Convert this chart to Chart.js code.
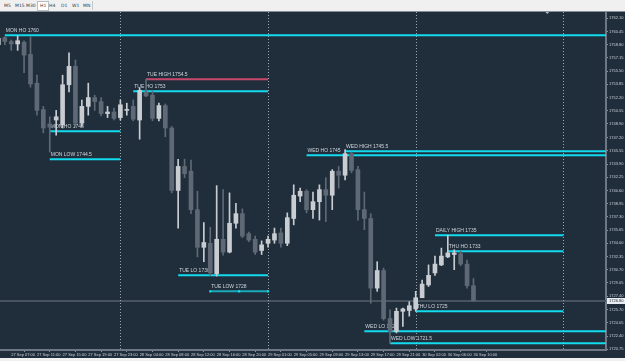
<!DOCTYPE html>
<html>
<head>
<meta charset="utf-8">
<script src="https://cdn.jsdelivr.net/npm/chart.js@4.4.0/dist/chart.umd.min.js"></script>
<style>
  html, body { margin: 0; padding: 0; background: #f0f0f0; overflow: hidden; }
  #bar { position: absolute; left: 0; top: 0; width: 625px; height: 11px; background: #f0f0f0; border-bottom: 1px solid #858d96; }
  #bar span { position: absolute; top: 3px; font: 4.5px "DejaVu Sans", sans-serif; color: #3a3a3a; line-height: 5px; }
  #bar .on { top: 1px; height: 8px; padding: 0 2px; line-height: 8px; background: #fff; border: 1px solid #b8bec4; }
  #bar i { position: absolute; left: 92px; top: 1px; width: 1px; height: 9px; background: #c4c8cc; }
  #wrap { position: absolute; left: 0; top: 12px; width: 625px; height: 346px; background: #202e3c; }
</style>
</head>
<body>
<div id="bar">
  <span style="left:4px">M5</span>
  <span style="left:15px">M15</span>
  <span style="left:26px">M30</span>
  <span class="on" style="left:37px">H1</span>
  <span style="left:49px">H4</span>
  <span style="left:61px">D1</span>
  <span style="left:72px">W1</span>
  <span style="left:83px">MN</span>
  <i></i>
</div>
<div id="wrap"><canvas id="grafico" width="625" height="346"></canvas></div>
<script>
// barras H1, 27 Sep 05:00 -> 30 Sep 10:00
const times = [
  '27 Sep 05:00', '27 Sep 06:00', '27 Sep 07:00', '27 Sep 08:00', '27 Sep 09:00', '27 Sep 10:00', '27 Sep 11:00',
  '27 Sep 12:00', '27 Sep 13:00', '27 Sep 14:00', '27 Sep 15:00', '27 Sep 16:00', '27 Sep 17:00', '27 Sep 18:00',
  '27 Sep 19:00', '27 Sep 20:00', '27 Sep 21:00', '27 Sep 22:00', '27 Sep 23:00',
  '28 Sep 01:00', '28 Sep 02:00', '28 Sep 03:00', '28 Sep 04:00', '28 Sep 05:00', '28 Sep 06:00', '28 Sep 07:00',
  '28 Sep 08:00', '28 Sep 09:00', '28 Sep 10:00', '28 Sep 11:00', '28 Sep 12:00', '28 Sep 13:00', '28 Sep 14:00',
  '28 Sep 15:00', '28 Sep 16:00', '28 Sep 17:00', '28 Sep 18:00', '28 Sep 19:00', '28 Sep 20:00', '28 Sep 21:00',
  '28 Sep 22:00', '28 Sep 23:00',
  '29 Sep 01:00', '29 Sep 02:00', '29 Sep 03:00', '29 Sep 04:00', '29 Sep 05:00', '29 Sep 06:00', '29 Sep 07:00',
  '29 Sep 08:00', '29 Sep 09:00', '29 Sep 10:00', '29 Sep 11:00', '29 Sep 12:00', '29 Sep 13:00', '29 Sep 14:00',
  '29 Sep 15:00', '29 Sep 16:00', '29 Sep 17:00', '29 Sep 18:00', '29 Sep 19:00', '29 Sep 20:00', '29 Sep 21:00',
  '29 Sep 22:00', '29 Sep 23:00',
  '30 Sep 01:00', '30 Sep 02:00', '30 Sep 03:00', '30 Sep 04:00', '30 Sep 05:00', '30 Sep 06:00', '30 Sep 07:00',
  '30 Sep 08:00', '30 Sep 09:00', '30 Sep 10:00'
];

const open = [
  1758.8, 1759.7, 1759.2, 1758.9, 1759.1, 1757.6, 1754.0, 1750.7, 1748.9, 1749.4, 1748.8, 1753.8, 1756.1, 1749.0,
  1751.1, 1752.2, 1751.7, 1750.2, 1750.4,
  1749.7, 1750.6, 1751.1, 1749.4, 1752.9, 1752.5, 1749.6, 1751.2, 1748.4, 1740.6, 1743.6, 1743.0, 1738.2, 1733.5,
  1734.0, 1730.2, 1734.5, 1732.9, 1736.5, 1737.7, 1735.2, 1734.5, 1733.1,
  1734.0, 1734.4, 1735.3, 1734.0, 1737.1, 1739.9, 1740.5, 1738.2, 1739.2, 1740.7, 1740.0, 1743.0, 1742.5, 1745.2,
  1743.2, 1738.2, 1737.1, 1728.4, 1730.6, 1724.6, 1723.0, 1725.5, 1725.6,
  1725.8, 1727.2, 1728.8, 1730.3, 1731.3, 1732.3, 1732.6, 1732.7, 1731.4, 1728.7
];
const high = [
  1759.8, 1759.8, 1759.4, 1759.9, 1759.3, 1759.8, 1755.0, 1751.1, 1749.8, 1750.6, 1755.0, 1757.8, 1756.9, 1751.9,
  1754.0, 1752.5, 1752.2, 1751.1, 1750.9,
  1751.9, 1751.5, 1751.9, 1753.4, 1754.5, 1753.0, 1751.5, 1751.4, 1748.6, 1744.5, 1744.5, 1744.4, 1740.5, 1736.6,
  1736.0, 1741.2, 1740.7, 1740.3, 1739.0, 1738.3, 1735.4, 1734.9, 1734.3,
  1734.9, 1735.9, 1735.9, 1737.8, 1741.3, 1740.9, 1740.7, 1740.4, 1741.3, 1742.2, 1743.2, 1743.6, 1745.7, 1745.4,
  1743.6, 1740.4, 1737.7, 1731.7, 1730.9, 1725.7, 1725.9, 1725.9, 1726.7,
  1728.0, 1729.4, 1731.3, 1732.4, 1733.4, 1735.0, 1733.2, 1733.0, 1731.9, 1729.6
];
const low = [
  1758.6, 1758.8, 1758.1, 1758.1, 1755.3, 1753.5, 1750.0, 1747.8, 1745.4, 1747.5, 1748.4, 1752.9, 1748.6, 1748.6,
  1750.0, 1750.6, 1749.9, 1749.7, 1749.4,
  1749.4, 1750.0, 1749.3, 1747.0, 1752.3, 1749.3, 1749.3, 1747.3, 1740.3, 1735.9, 1742.2, 1737.7, 1732.3, 1731.7,
  1730.0, 1729.9, 1732.5, 1732.8, 1735.9, 1734.7, 1734.2, 1732.6, 1732.6,
  1733.5, 1734.0, 1733.5, 1733.7, 1736.3, 1739.2, 1737.8, 1737.1, 1736.9, 1736.7, 1738.2, 1740.9, 1741.9, 1742.8,
  1736.9, 1735.7, 1726.5, 1728.0, 1724.4, 1721.5, 1722.8, 1723.6, 1724.9,
  1725.5, 1727.2, 1728.6, 1730.0, 1731.2, 1732.2, 1730.7, 1731.2, 1728.4, 1726.8
];
const close = [
  1759.6, 1759.2, 1758.9, 1759.3, 1757.5, 1753.9, 1750.6, 1748.4, 1748.5, 1749.8, 1753.8, 1756.1, 1749.0, 1751.1,
  1752.2, 1751.7, 1750.2, 1750.4, 1749.6,
  1751.3, 1750.7, 1749.5, 1753.1, 1752.4, 1749.6, 1751.2, 1748.4, 1740.6, 1743.6, 1742.7, 1738.2, 1733.5, 1734.1,
  1730.3, 1734.5, 1732.9, 1736.5, 1737.7, 1734.9, 1734.4, 1732.9, 1733.8,
  1734.5, 1735.2, 1734.0, 1737.2, 1740.0, 1740.5, 1738.2, 1739.2, 1740.7, 1740.0, 1743.0, 1742.5, 1745.2, 1743.1,
  1738.2, 1737.1, 1728.4, 1730.6, 1724.6, 1723.0, 1725.5, 1725.8, 1726.2,
  1727.2, 1728.9, 1730.0, 1731.4, 1732.4, 1732.8, 1732.8, 1731.4, 1728.7, 1726.8
];

// niveles dibujados (desde / hasta en numero de barra)
const levelNames = ['MON HO 1760', 'TUE HIGH 1754.5', 'TUE HO 1753', 'MON HO 1748', 'MON LOW 1744.5',
  'WED HIGH 1745.5', 'WED HO 1745', 'DAILY HIGH 1735', 'THU HO 1733', 'TUE LO 1730', 'TUE LOW 1728',
  'THU LO 1725', 'WED LO 1723', 'WED LOW 1721.5'];
const levelPrice = [1760, 1754.5, 1753, 1748, 1744.5, 1745.5, 1745, 1735, 1733, 1730, 1728, 1725.5, 1723, 1721.5];
const levelFrom = [1, 23, 21, 8, 8, 54, 48, 68, 70, 28, 33, 65, 57, 61];
const levelTo = [100, 42, 42, 19, 19, 100, 100, 88, 88, 42, 42, 88, 100, 100];

// separadores de dia (barra 01:00) y precios del eje
const dayStarts = [19, 42, 65, 88];
const priceTicks = [1762.10, 1760.45, 1758.80, 1757.15, 1755.50, 1753.85, 1752.20, 1750.55, 1748.90, 1747.20,
  1745.55, 1743.90, 1742.25, 1740.60, 1738.95, 1737.30, 1735.65, 1734.00, 1732.35, 1730.70, 1729.05, 1727.40,
  1725.70, 1724.05, 1722.40, 1720.75];

const BULL = '#c9cdd2';
const BEAR = '#5e6975';

function colorLinea(nombre) {
  if (nombre.indexOf('TUE HIGH') === 0) return '#c8486c';
  if (nombre.indexOf('TUE LOW') === 0) return '#1aa9b9';
  return '#12dbee';
}

const velas = times.map(function (t, i) {
  return close[i] >= open[i] ? BULL : BEAR;
});

const datasets = [
  {
    type: 'bar', order: 0, grouped: false, barThickness: 4, minBarLength: 1,
    data: times.map(function (t, i) { return { x: i, y: [open[i], close[i]] }; }),
    backgroundColor: velas, borderWidth: 0
  },
  {
    type: 'bar', order: 1, grouped: false, barThickness: 1,
    data: times.map(function (t, i) { return { x: i, y: [low[i], high[i]] }; }),
    backgroundColor: velas, borderWidth: 0
  }
];

levelNames.forEach(function (n, j) {
  const pts = [{ x: levelFrom[j], y: levelPrice[j] }, { x: levelTo[j], y: levelPrice[j] }];
  const sel = n.indexOf('TUE LOW') === 0;
  if (sel) pts.splice(1, 0, { x: (levelFrom[j] + levelTo[j]) / 2, y: levelPrice[j] });
  datasets.push({
    type: 'line', order: 2, data: pts,
    borderColor: colorLinea(n), borderWidth: 2,
    pointRadius: sel ? 1.5 : 0, pointHoverRadius: 0, pointStyle: 'rect',
    pointBackgroundColor: '#18e0f0', pointBorderWidth: 0
  });
});

const extras = {
  id: 'extras',
  beforeDatasetsDraw: function (chart) {
    const ctx = chart.ctx, a = chart.chartArea, x = chart.scales.x, y = chart.scales.y;
    ctx.save();
    // linea bid
    const yb = Math.round(y.getPixelForValue(close[close.length - 1]));
    ctx.fillStyle = '#47535f';
    ctx.fillRect(a.left, yb - 1, a.right - a.left, 2);
    // separadores
    ctx.strokeStyle = '#9ba5af';
    ctx.lineWidth = 1;
    ctx.setLineDash([1, 2]);
    dayStarts.forEach(function (d) {
      const px = Math.round(x.getPixelForValue(d)) + 0.5;
      ctx.beginPath();
      ctx.moveTo(px, a.top);
      ctx.lineTo(px, a.bottom);
      ctx.stroke();
    });
    ctx.setLineDash([]);
    // textos de niveles
    ctx.font = '5px "Liberation Sans", Arial, sans-serif';
    ctx.fillStyle = '#d0d6dc';
    ctx.textAlign = 'left';
    ctx.textBaseline = 'alphabetic';
    levelNames.forEach(function (n, j) {
      ctx.fillText(n, x.getPixelForValue(levelFrom[j]) + 1, Math.round(y.getPixelForValue(levelPrice[j])) - 3);
    });
    ctx.restore();
  },
  afterDraw: function (chart) {
    const ctx = chart.ctx, a = chart.chartArea, y = chart.scales.y, x = chart.scales.x;
    ctx.save();
    // caja precio actual
    const last = close[close.length - 1];
    const yb = Math.round(y.getPixelForValue(last));
    ctx.fillStyle = '#e9edf1';
    ctx.fillRect(a.right + 1, yb - 3, 18, 6);
    ctx.fillStyle = '#1d2835';
    ctx.font = '4px "Liberation Sans", Arial, sans-serif';
    ctx.textBaseline = 'middle';
    ctx.fillText(last.toFixed(2), a.right + 3, yb);
    // marcador de desplazamiento
    const sx = x.getPixelForValue(times.length + 10.5);
    ctx.fillStyle = '#aab4be';
    ctx.beginPath();
    ctx.moveTo(sx - 2, a.top);
    ctx.lineTo(sx + 2, a.top);
    ctx.lineTo(sx, a.top + 2);
    ctx.fill();
    ctx.restore();
  }
};

const ctx = document.getElementById('grafico').getContext('2d');
const grafico = new Chart(ctx, {
  type: 'bar',
  data: { datasets: datasets },
  options: {
    responsive: false,
    animation: false,
    layout: { padding: 0, autoPadding: false },
    plugins: { legend: { display: false }, tooltip: { enabled: false } },
    scales: {
      x: {
        type: 'linear',
        min: 0.25,
        max: 94.64,
        offset: false,
        grid: { display: true, drawOnChartArea: false, tickLength: 2, color: '#8c96a0' },
        border: { display: true, color: '#6d7884', width: 2 },
        afterBuildTicks: function (scale) {
          const t = [];
          for (let i = 2; i < times.length; i += 4) t.push({ value: i });
          scale.ticks = t;
        },
        afterFit: function (scale) {
          scale.height = 8;
          scale.paddingLeft = 0;
          scale.paddingRight = 0;
        },
        ticks: {
          align: 'start', autoSkip: false, maxRotation: 0, padding: 0,
          color: '#c6ced6',
          font: { size: 4, family: '"Liberation Sans", Arial, sans-serif' },
          callback: function (v) { return times[v]; }
        }
      },
      y: {
        position: 'right',
        min: 1720.67,
        max: 1762.89,
        grid: { display: true, drawOnChartArea: false, tickLength: 2, color: '#8c96a0' },
        border: { display: true, color: '#6d7884', width: 2 },
        afterBuildTicks: function (scale) {
          scale.ticks = priceTicks.map(function (v) { return { value: v }; });
        },
        afterFit: function (scale) {
          scale.width = 19;
          scale.paddingTop = 0;
          scale.paddingBottom = 0;
        },
        ticks: {
          padding: 1, autoSkip: false,
          color: '#c6ced6',
          font: { size: 4, family: '"Liberation Sans", Arial, sans-serif' },
          callback: function (v) { return v.toFixed(2); }
        }
      }
    }
  },
  plugins: [extras]
});
</script>
</body>
</html>
